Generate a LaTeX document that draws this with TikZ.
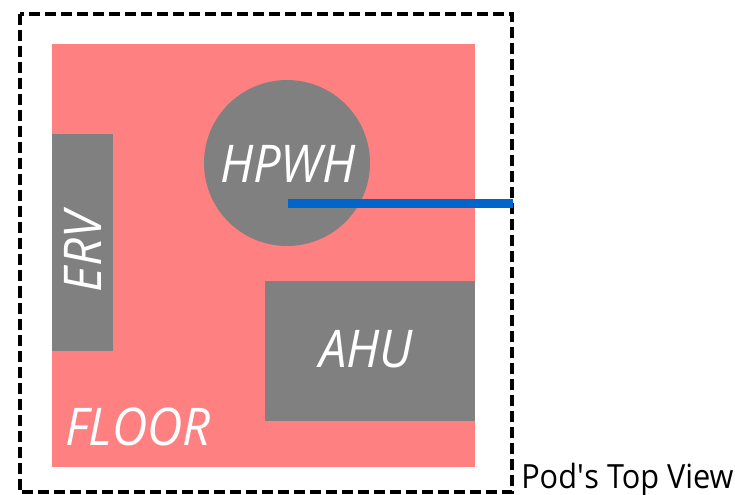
\documentclass[tikz,border=0pt]{standalone}
\usepackage{fontspec}
\setmainfont{Open Sans}
\newfontfamily\capfont[FakeStretch=0.92]{Open Sans}
\newfontfamily\unitfont[FakeStretch=0.94]{Open Sans}
\tikzset{
  x=0.75pt,y=-0.75pt,
  unit/.style={fill=unitgray,draw=none},
  unitlabel/.style={text=white,inner sep=0pt,font=\unitfont\fontsize{39pt}{44pt}\selectfont\itshape},
}
\definecolor{floorred}{RGB}{255,128,128}
\definecolor{unitgray}{RGB}{128,128,128}
\definecolor{pipeblue}{RGB}{0,102,204}
\begin{document}
\begin{tikzpicture}
\useasboundingbox (0,0) rectangle (735,495);
\fill[floorred] (52,44) rectangle (475,467);
\fill[unit] (52,134) rectangle (113,351);
\fill[unit] (265,281) rectangle (475,421);
\fill[unit] (287,163) circle (83);
\draw[black,line width=3pt,dash pattern=on 8.25pt off 3.75pt] (19.5,14.5) rectangle (512,492);
\coordinate (pipeA) at (288,203.5);
\coordinate (pipeB) at (513,203.5);
\draw[pipeblue,line width=6.75pt] (pipeA) -- (pipeB);
\node[unitlabel] (hpwh) at (288,163.5) {HPWH};
\node[unitlabel,rotate=90] (erv) at (83,252) {ERV};
\node[unitlabel] (ahu) at (366,349.5) {AHU};
\node[unitlabel] (floor) at (138,427) {FLOOR};
\node[anchor=base west,inner sep=0pt] (cap) at (521,488) {\capfont\fontsize{25pt}{30pt}\selectfont Pod\textquotesingle s Top View};
\end{tikzpicture}
\end{document}
